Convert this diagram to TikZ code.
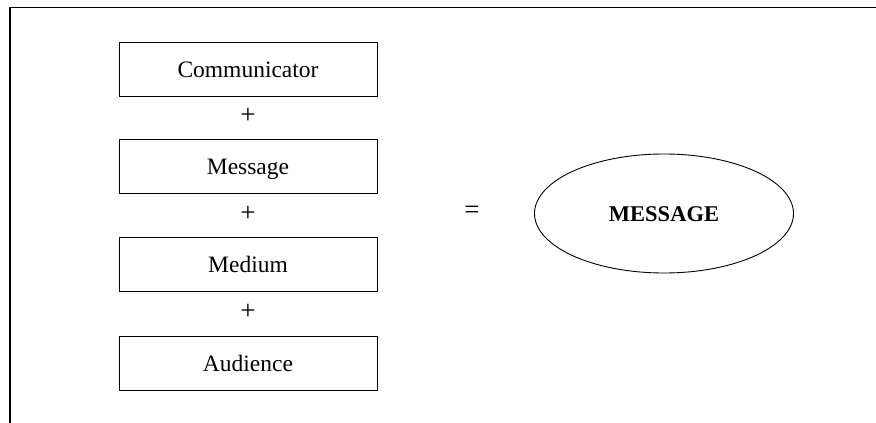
\documentclass[tikz,border=0pt]{standalone}
\usepackage{fontspec}
\setmainfont{Liberation Serif}
\usetikzlibrary{shapes.geometric}
\begin{document}
\begin{tikzpicture}[x=1pt,y=-1pt,
  stepbox/.style={draw,line width=0.9pt,minimum width=258pt,minimum height=54pt,inner sep=0pt,text height=16pt,text depth=0pt,font=\fontsize{23.5}{28}\selectfont},
  opsym/.style={inner sep=0pt,font=\fontsize{27}{30}\selectfont},
  result/.style={draw,ellipse,line width=0.9pt,minimum width=259pt,minimum height=119pt,inner sep=0pt,text height=15.5pt,text depth=0pt,font=\fontsize{22.5}{27}\selectfont\bfseries}]
\useasboundingbox (0,0) rectangle (876,423);
\coordinate (tl) at (10,7.5);
\coordinate (tr) at (876,7.5);
\coordinate (bl) at (10,423);
\draw[line width=1.4pt] (tr) -- (tl) -- (bl);
\node[stepbox] (comm) at (248,69) {Communicator};
\node[opsym] (p1) at (248,116) {+};
\node[stepbox] (mess) at (248,166.5) {Message};
\node[opsym] (p2) at (248,214) {+};
\node[stepbox] (med) at (248,264.5) {Medium};
\node[opsym] (p3) at (248,312) {+};
\node[stepbox] (aud) at (248,363) {Audience};
\node[opsym] (eq) at (472,212) {=};
\node[result] (res) at (664,213.5) {MESSAGE};
\end{tikzpicture}
\end{document}
